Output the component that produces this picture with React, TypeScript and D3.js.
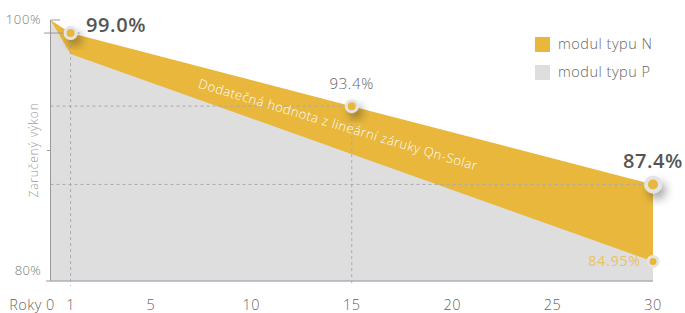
import * as d3 from "d3";

const years = [0, 1, 15, 30];
const nValues = [100, 99.0, 93.4, 87.4];
const pYears = [0, 1, 30];
const pValues = [100, 97.4, 81.5];
const xTicks = [0, 1, 5, 10, 15, 20, 25, 30];
const yTicks = [100, 90, 80];
const legendItems = ["modul typu N", "modul typu P"];

const W = 685;
const H = 313;
const YELLOW = "#e8b73c";
const GREY = "#dedede";
const FONT = "'Open Sans', Lato, sans-serif";

export default function App() {
  const x = d3.scaleLinear().domain([0, 30]).range([50.5, 653]);
  const y = d3.scaleLinear().domain([80, 100]).range([281, 20]);

  const nArea = d3
    .area<number>()
    .x((_, i) => x(years[i]))
    .y0(y(80))
    .y1((d) => y(d));
  const pArea = d3
    .area<number>()
    .x((_, i) => x(pYears[i]))
    .y0(y(80))
    .y1((d) => y(d));

  const p1 = { x: x(years[1]), y: y(nValues[1]) };
  const p15 = { x: x(years[2]), y: y(nValues[2]) };
  const p30 = { x: x(years[3]), y: y(nValues[3]) };
  const pEnd = { x: x(pYears[2]), y: y(pValues[2]) };

  // middle of the yellow band, for the rotated caption
  const midYear = 14.3;
  const nMid = d3.scaleLinear().domain([1, 30]).range([nValues[1], nValues[3]])(midYear);
  const pMid = d3.scaleLinear().domain([1, 30]).range([pValues[1], pValues[2]])(midYear);
  const capX = x(midYear);
  const capY = (y(nMid) + y(pMid)) / 2;

  const dash = "3,3";

  return (
    <svg
      width={W}
      height={H}
      style={{ position: "absolute", left: 0, top: 0, display: "block", fontFamily: FONT }}
    >
      <defs>
        <filter id="sh" x="-100%" y="-100%" width="300%" height="300%">
          <feDropShadow dx="4" dy="6" stdDeviation="5" floodColor="#000" floodOpacity="0.35" />
        </filter>
      </defs>

      <path d={nArea(nValues) || ""} fill={YELLOW} />
      <path d={pArea(pValues) || ""} fill={GREY} />

      {/* guides */}
      <line x1={44} x2={p1.x} y1={p1.y} y2={p1.y} stroke="#999" strokeWidth={1} />
      <line x1={p1.x} x2={80} y1={p1.y} y2={p1.y} stroke="#aaa" strokeDasharray={dash} />
      <line x1={p1.x} x2={p1.x} y1={p1.y} y2={286} stroke="#aaa" strokeDasharray={dash} />
      <line x1={x(0)} x2={p15.x} y1={p15.y} y2={p15.y} stroke="#aaa" strokeDasharray={dash} />
      <line x1={p15.x} x2={p15.x} y1={p15.y} y2={286} stroke="#aaa" strokeDasharray={dash} />
      <line x1={x(0)} x2={p30.x} y1={p30.y} y2={p30.y} stroke="#aaa" strokeDasharray={dash} />

      {/* axes */}
      <line x1={x(0)} x2={x(0)} y1={y(100)} y2={y(80)} stroke="#999" />
      <line x1={x(0)} x2={x(30)} y1={y(80)} y2={y(80)} stroke="#aab0b8" strokeWidth={1.5} />
      <line x1={x(0)} x2={60} y1={y(100)} y2={y(100)} stroke="#999" />
      <line x1={47} x2={x(0)} y1={y(90)} y2={y(90)} stroke="#999" />
      <line x1={46} x2={x(0)} y1={y(80)} y2={y(80)} stroke="#999" />

      <text x={41} y={y(yTicks[0]) + 1} textAnchor="end" dominantBaseline="middle" fontSize={13} letterSpacing={0.6} fontWeight={300} fill="#777">
        {yTicks[0]}%
      </text>
      <text x={41} y={y(yTicks[2]) - 9} textAnchor="end" dominantBaseline="middle" fontSize={13} letterSpacing={0.3} fontWeight={300} fill="#777">
        {yTicks[2]}%
      </text>
      <text
        transform={`translate(35,${150}) rotate(-90)`}
        textAnchor="middle"
        dominantBaseline="middle"
        fontSize={12}
        letterSpacing={0.8}
        fontWeight={300}
        fill="#999"
      >
        Zaručený výkon
      </text>

      <text x={42} y={310} textAnchor="end" fontSize={14.5} letterSpacing={0.5} fontWeight={300} fill="#666">
        Roky
      </text>
      {xTicks.map((t) => (
        <text key={t} x={x(t)} y={310} textAnchor="middle" fontSize={14.5} letterSpacing={0.5} fontWeight={300} fill="#666">
          {t}
        </text>
      ))}

      {/* caption in band */}
      <text
        transform={`translate(${capX},${capY}) rotate(16.6)`}
        textAnchor="middle"
        dominantBaseline="middle"
        fontSize={13}
        letterSpacing={0.5}
        fontWeight={300}
        fill="#fff"
      >
        Dodatečná hodnota z lineární záruky Qn-Solar
      </text>

      {/* dots */}
      <circle cx={p1.x} cy={p1.y} r={5.5} fill={YELLOW} stroke="#e4e4e4" strokeWidth={3} filter="url(#sh)" />
      <circle cx={p15.x} cy={p15.y} r={5.5} fill={YELLOW} stroke="#e4e4e4" strokeWidth={3} filter="url(#sh)" />
      <circle cx={p30.x} cy={p30.y} r={7} fill={YELLOW} stroke="#e4e4e4" strokeWidth={4} filter="url(#sh)" />
      <circle cx={pEnd.x} cy={pEnd.y} r={5} fill={YELLOW} stroke="#e4e4e4" strokeWidth={3} />

      {/* value labels */}
      <text x={86} y={32} fontSize={20} letterSpacing={0.6} fontWeight={600} fill="#555">
        {nValues[1].toFixed(1)}%
      </text>
      <text x={p15.x} y={89} textAnchor="middle" fontSize={15} letterSpacing={0.6} fontWeight={300} fill="#666">
        {nValues[2].toFixed(1)}%
      </text>
      <text x={683} y={168} textAnchor="end" fontSize={20} letterSpacing={0.6} fontWeight={600} fill="#555">
        {nValues[3].toFixed(1)}%
      </text>
      <text x={641} y={266} textAnchor="end" fontSize={14} letterSpacing={0.9} fontWeight={400} fill="#e9c35c">
        84.95%
      </text>

      {/* legend */}
      {legendItems.map((label, i) => (
        <g key={label} transform={`translate(535,${37 + i * 28})`}>
          <rect width={15} height={15} fill={i === 0 ? YELLOW : GREY} />
          <text x={23} y={12} fontSize={14.5} letterSpacing={0.5} fontWeight={300} fill="#666">
            {label}
          </text>
        </g>
      ))}
    </svg>
  );
}
